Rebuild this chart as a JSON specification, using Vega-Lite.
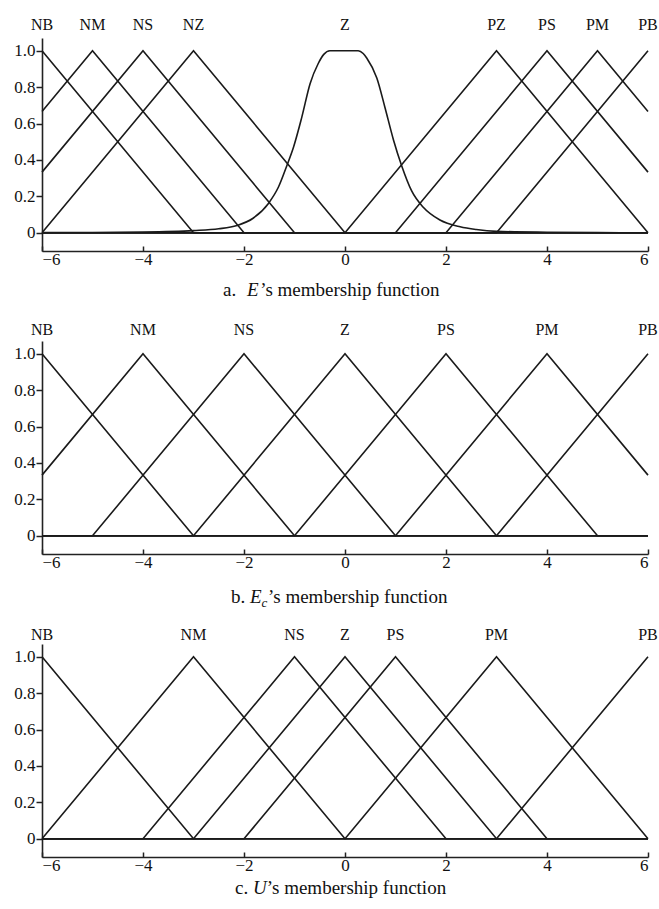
{
  "$schema": "https://vega.github.io/schema/vega-lite/v6.json",
  "background": "white",
  "padding": {"left": 13, "top": 17, "right": 5, "bottom": 5},
  "spacing": 90,
  "bounds": "flush",
  "config": {
    "font": "Liberation Serif",
    "view": {"stroke": null},
    "axis": {
      "labelFont": "Liberation Serif",
      "labelFontSize": 17,
      "labelColor": "#111",
      "domainColor": "#222",
      "tickColor": "#222",
      "domainWidth": 1.6,
      "tickWidth": 1.5,
      "grid": false,
      "title": null
    },
    "text": {"font": "Liberation Serif", "color": "#111"}
  },
  "datasets": {
    "a_tri": [
      {"name": "NB", "x": -6, "y": 1}, {"name": "NB", "x": -3, "y": 0}, {"name": "NB", "x": 6, "y": 0},
      {"name": "NM", "x": -6, "y": 0.6667}, {"name": "NM", "x": -5, "y": 1}, {"name": "NM", "x": -2, "y": 0}, {"name": "NM", "x": 6, "y": 0},
      {"name": "NS", "x": -6, "y": 0.3333}, {"name": "NS", "x": -4, "y": 1}, {"name": "NS", "x": -1, "y": 0}, {"name": "NS", "x": 6, "y": 0},
      {"name": "NZ", "x": -6, "y": 0}, {"name": "NZ", "x": -3, "y": 1}, {"name": "NZ", "x": 0, "y": 0}, {"name": "NZ", "x": 6, "y": 0},
      {"name": "PZ", "x": -6, "y": 0}, {"name": "PZ", "x": 0, "y": 0}, {"name": "PZ", "x": 3, "y": 1}, {"name": "PZ", "x": 6, "y": 0},
      {"name": "PS", "x": -6, "y": 0}, {"name": "PS", "x": 1, "y": 0}, {"name": "PS", "x": 4, "y": 1}, {"name": "PS", "x": 6, "y": 0.3333},
      {"name": "PM", "x": -6, "y": 0}, {"name": "PM", "x": 2, "y": 0}, {"name": "PM", "x": 5, "y": 1}, {"name": "PM", "x": 6, "y": 0.6667},
      {"name": "PB", "x": -6, "y": 0}, {"name": "PB", "x": 3, "y": 0}, {"name": "PB", "x": 6, "y": 1}
    ],
    "a_bell": [
      {"x": -6, "y": 0.001}, {"x": -5, "y": 0.002}, {"x": -4, "y": 0.004}, {"x": -3, "y": 0.012},
      {"x": -2.5, "y": 0.022}, {"x": -2.14, "y": 0.04}, {"x": -1.82, "y": 0.08}, {"x": -1.52, "y": 0.16},
      {"x": -1.32, "y": 0.25}, {"x": -1.15, "y": 0.37}, {"x": -1.02, "y": 0.47}, {"x": -0.86, "y": 0.63},
      {"x": -0.69, "y": 0.82}, {"x": -0.53, "y": 0.93}, {"x": -0.42, "y": 0.98}, {"x": -0.3, "y": 1.0},
      {"x": 0.26, "y": 1.0}, {"x": 0.36, "y": 0.985}, {"x": 0.43, "y": 0.96}, {"x": 0.63, "y": 0.85},
      {"x": 0.79, "y": 0.69}, {"x": 0.96, "y": 0.51}, {"x": 1.12, "y": 0.37}, {"x": 1.32, "y": 0.23},
      {"x": 1.55, "y": 0.14}, {"x": 1.88, "y": 0.07}, {"x": 2.28, "y": 0.033}, {"x": 2.6, "y": 0.018},
      {"x": 3, "y": 0.008}, {"x": 4, "y": 0.003}, {"x": 5, "y": 0.001}, {"x": 6, "y": 0.0}
    ],
    "b_tri": [
      {"name": "NB", "x": -6, "y": 1}, {"name": "NB", "x": -3, "y": 0}, {"name": "NB", "x": 6, "y": 0},
      {"name": "NM", "x": -6, "y": 0.3333}, {"name": "NM", "x": -4, "y": 1}, {"name": "NM", "x": -1, "y": 0}, {"name": "NM", "x": 6, "y": 0},
      {"name": "NS", "x": -6, "y": 0}, {"name": "NS", "x": -5, "y": 0}, {"name": "NS", "x": -2, "y": 1}, {"name": "NS", "x": 1, "y": 0}, {"name": "NS", "x": 6, "y": 0},
      {"name": "Z", "x": -6, "y": 0}, {"name": "Z", "x": -3, "y": 0}, {"name": "Z", "x": 0, "y": 1}, {"name": "Z", "x": 3, "y": 0}, {"name": "Z", "x": 6, "y": 0},
      {"name": "PS", "x": -6, "y": 0}, {"name": "PS", "x": -1, "y": 0}, {"name": "PS", "x": 2, "y": 1}, {"name": "PS", "x": 5, "y": 0}, {"name": "PS", "x": 6, "y": 0},
      {"name": "PM", "x": -6, "y": 0}, {"name": "PM", "x": 1, "y": 0}, {"name": "PM", "x": 4, "y": 1}, {"name": "PM", "x": 6, "y": 0.3333},
      {"name": "PB", "x": -6, "y": 0}, {"name": "PB", "x": 3, "y": 0}, {"name": "PB", "x": 6, "y": 1}
    ],
    "c_tri": [
      {"name": "NB", "x": -6, "y": 1}, {"name": "NB", "x": -3, "y": 0}, {"name": "NB", "x": 6, "y": 0},
      {"name": "NM", "x": -6, "y": 0}, {"name": "NM", "x": -3, "y": 1}, {"name": "NM", "x": 0, "y": 0}, {"name": "NM", "x": 6, "y": 0},
      {"name": "NS", "x": -6, "y": 0}, {"name": "NS", "x": -4, "y": 0}, {"name": "NS", "x": -1, "y": 1}, {"name": "NS", "x": 2, "y": 0}, {"name": "NS", "x": 6, "y": 0},
      {"name": "Z", "x": -6, "y": 0}, {"name": "Z", "x": -3, "y": 0}, {"name": "Z", "x": 0, "y": 1}, {"name": "Z", "x": 3, "y": 0}, {"name": "Z", "x": 6, "y": 0},
      {"name": "PS", "x": -6, "y": 0}, {"name": "PS", "x": -2, "y": 0}, {"name": "PS", "x": 1, "y": 1}, {"name": "PS", "x": 4, "y": 0}, {"name": "PS", "x": 6, "y": 0},
      {"name": "PM", "x": -6, "y": 0}, {"name": "PM", "x": 0, "y": 0}, {"name": "PM", "x": 3, "y": 1}, {"name": "PM", "x": 6, "y": 0},
      {"name": "PB", "x": -6, "y": 0}, {"name": "PB", "x": 3, "y": 0}, {"name": "PB", "x": 6, "y": 1}
    ],
    "labels": [
      {"panel": "a", "name": "NB", "x": -6}, {"panel": "a", "name": "NM", "x": -5}, {"panel": "a", "name": "NS", "x": -4},
      {"panel": "a", "name": "NZ", "x": -3}, {"panel": "a", "name": "Z", "x": 0}, {"panel": "a", "name": "PZ", "x": 3},
      {"panel": "a", "name": "PS", "x": 4}, {"panel": "a", "name": "PM", "x": 5}, {"panel": "a", "name": "PB", "x": 6},
      {"panel": "b", "name": "NB", "x": -6}, {"panel": "b", "name": "NM", "x": -4}, {"panel": "b", "name": "NS", "x": -2},
      {"panel": "b", "name": "Z", "x": 0}, {"panel": "b", "name": "PS", "x": 2}, {"panel": "b", "name": "PM", "x": 4},
      {"panel": "b", "name": "PB", "x": 6},
      {"panel": "c", "name": "NB", "x": -6}, {"panel": "c", "name": "NM", "x": -3}, {"panel": "c", "name": "NS", "x": -1},
      {"panel": "c", "name": "Z", "x": 0}, {"panel": "c", "name": "PS", "x": 1}, {"panel": "c", "name": "PM", "x": 3},
      {"panel": "c", "name": "PB", "x": 6}
    ],
    "captions": [
      {"panel": "a", "part": "pre", "text": "a. "}, {"panel": "a", "part": "ital", "text": "E"}, {"panel": "a", "part": "rest", "text": "’s membership function"},
      {"panel": "b", "part": "pre", "text": "b. "}, {"panel": "b", "part": "ital", "text": "E"}, {"panel": "b", "part": "sub", "text": "c"}, {"panel": "b", "part": "rest", "text": "’s membership function"},
      {"panel": "c", "part": "pre", "text": "c. "}, {"panel": "c", "part": "ital", "text": "U"}, {"panel": "c", "part": "rest", "text": "’s membership function"}
    ]
  },
  "vconcat": [
    {
      "width": 606, "height": 213,
      "layer": [
        {
          "data": {"name": "a_tri"},
          "mark": {"type": "line", "color": "#1a1a1a", "strokeWidth": 1.6},
          "encoding": {
            "x": {"field": "x", "type": "quantitative", "scale": {"domain": [-6, 6], "nice": false, "zero": false},
                  "axis": {"values": [-6, -4, -2, 0, 2, 4, 6], "tickSize": -5, "labelPadding": 5}},
            "y": {"field": "y", "type": "quantitative", "scale": {"domain": [-0.1, 1.07], "nice": false, "zero": false},
                  "axis": {"values": [0, 0.2, 0.4, 0.6, 0.8, 1], "tickSize": 6, "labelPadding": 1, "labelExpr": "datum.value == 0 ? '0' : format(datum.value, '.1f')"}},
            "detail": {"field": "name"}
          }
        },
        {
          "data": {"name": "a_bell"},
          "mark": {"type": "line", "color": "#1a1a1a", "strokeWidth": 1.6, "interpolate": "monotone"},
          "encoding": {"x": {"field": "x", "type": "quantitative"}, "y": {"field": "y", "type": "quantitative"}}
        },
        {
          "data": {"name": "labels"},
          "transform": [{"filter": "datum.panel == 'a'"}],
          "mark": {"type": "text", "fontSize": 16, "baseline": "middle", "align": "center"},
          "encoding": {"x": {"field": "x", "type": "quantitative"}, "y": {"datum": 1.14}, "text": {"field": "name"}}
        },
        {
          "data": {"name": "captions"},
          "transform": [{"filter": "datum.panel == 'a' && datum.part == 'pre'"}],
          "mark": {"type": "text", "fontSize": 19, "baseline": "middle", "align": "left"},
          "encoding": {"x": {"datum": -2.416}, "y": {"datum": -0.314}, "text": {"field": "text"}}
        },
        {
          "data": {"name": "captions"},
          "transform": [{"filter": "datum.panel == 'a' && datum.part == 'ital'"}],
          "mark": {"type": "text", "fontSize": 19, "baseline": "middle", "align": "left", "fontStyle": "italic"},
          "encoding": {"x": {"datum": -1.94}, "y": {"datum": -0.314}, "text": {"field": "text"}}
        },
        {
          "data": {"name": "captions"},
          "transform": [{"filter": "datum.panel == 'a' && datum.part == 'rest'"}],
          "mark": {"type": "text", "fontSize": 19, "baseline": "middle", "align": "left"},
          "encoding": {"x": {"datum": -1.68}, "y": {"datum": -0.314}, "text": {"field": "text"}}
        }
      ]
    },
    {
      "width": 606, "height": 213,
      "layer": [
        {
          "data": {"name": "b_tri"},
          "mark": {"type": "line", "color": "#1a1a1a", "strokeWidth": 1.6},
          "encoding": {
            "x": {"field": "x", "type": "quantitative", "scale": {"domain": [-6, 6], "nice": false, "zero": false},
                  "axis": {"values": [-6, -4, -2, 0, 2, 4, 6], "tickSize": -5, "labelPadding": 5}},
            "y": {"field": "y", "type": "quantitative", "scale": {"domain": [-0.1, 1.07], "nice": false, "zero": false},
                  "axis": {"values": [0, 0.2, 0.4, 0.6, 0.8, 1], "tickSize": 6, "labelPadding": 1, "labelExpr": "datum.value == 0 ? '0' : format(datum.value, '.1f')"}},
            "detail": {"field": "name"}
          }
        },
        {
          "data": {"name": "labels"},
          "transform": [{"filter": "datum.panel == 'b'"}],
          "mark": {"type": "text", "fontSize": 16, "baseline": "middle", "align": "center"},
          "encoding": {"x": {"field": "x", "type": "quantitative"}, "y": {"datum": 1.133}, "text": {"field": "name"}}
        },
        {
          "data": {"name": "captions"},
          "transform": [{"filter": "datum.panel == 'b' && datum.part == 'pre'"}],
          "mark": {"type": "text", "fontSize": 19, "baseline": "middle", "align": "left"},
          "encoding": {"x": {"datum": -2.257}, "y": {"datum": -0.336}, "text": {"field": "text"}}
        },
        {
          "data": {"name": "captions"},
          "transform": [{"filter": "datum.panel == 'b' && datum.part == 'ital'"}],
          "mark": {"type": "text", "fontSize": 19, "baseline": "middle", "align": "left", "fontStyle": "italic"},
          "encoding": {"x": {"datum": -1.881}, "y": {"datum": -0.336}, "text": {"field": "text"}}
        },
        {
          "data": {"name": "captions"},
          "transform": [{"filter": "datum.panel == 'b' && datum.part == 'sub'"}],
          "mark": {"type": "text", "fontSize": 13, "baseline": "middle", "align": "left", "fontStyle": "italic", "dy": 6},
          "encoding": {"x": {"datum": -1.655}, "y": {"datum": -0.336}, "text": {"field": "text"}}
        },
        {
          "data": {"name": "captions"},
          "transform": [{"filter": "datum.panel == 'b' && datum.part == 'rest'"}],
          "mark": {"type": "text", "fontSize": 19, "baseline": "middle", "align": "left"},
          "encoding": {"x": {"datum": -1.525}, "y": {"datum": -0.336}, "text": {"field": "text"}}
        }
      ]
    },
    {
      "width": 606, "height": 213,
      "layer": [
        {
          "data": {"name": "c_tri"},
          "mark": {"type": "line", "color": "#1a1a1a", "strokeWidth": 1.6},
          "encoding": {
            "x": {"field": "x", "type": "quantitative", "scale": {"domain": [-6, 6], "nice": false, "zero": false},
                  "axis": {"values": [-6, -4, -2, 0, 2, 4, 6], "tickSize": -5, "labelPadding": 5}},
            "y": {"field": "y", "type": "quantitative", "scale": {"domain": [-0.1, 1.07], "nice": false, "zero": false},
                  "axis": {"values": [0, 0.2, 0.4, 0.6, 0.8, 1], "tickSize": 6, "labelPadding": 1, "labelExpr": "datum.value == 0 ? '0' : format(datum.value, '.1f')"}},
            "detail": {"field": "name"}
          }
        },
        {
          "data": {"name": "labels"},
          "transform": [{"filter": "datum.panel == 'c'"}],
          "mark": {"type": "text", "fontSize": 16, "baseline": "middle", "align": "center"},
          "encoding": {"x": {"field": "x", "type": "quantitative"}, "y": {"datum": 1.12}, "text": {"field": "name"}}
        },
        {
          "data": {"name": "captions"},
          "transform": [{"filter": "datum.panel == 'c' && datum.part == 'pre'"}],
          "mark": {"type": "text", "fontSize": 19, "baseline": "middle", "align": "left"},
          "encoding": {"x": {"datum": -2.178}, "y": {"datum": -0.27}, "text": {"field": "text"}}
        },
        {
          "data": {"name": "captions"},
          "transform": [{"filter": "datum.panel == 'c' && datum.part == 'ital'"}],
          "mark": {"type": "text", "fontSize": 19, "baseline": "middle", "align": "left", "fontStyle": "italic"},
          "encoding": {"x": {"datum": -1.822}, "y": {"datum": -0.27}, "text": {"field": "text"}}
        },
        {
          "data": {"name": "captions"},
          "transform": [{"filter": "datum.panel == 'c' && datum.part == 'rest'"}],
          "mark": {"type": "text", "fontSize": 19, "baseline": "middle", "align": "left"},
          "encoding": {"x": {"datum": -1.55}, "y": {"datum": -0.27}, "text": {"field": "text"}}
        }
      ]
    }
  ]
}
